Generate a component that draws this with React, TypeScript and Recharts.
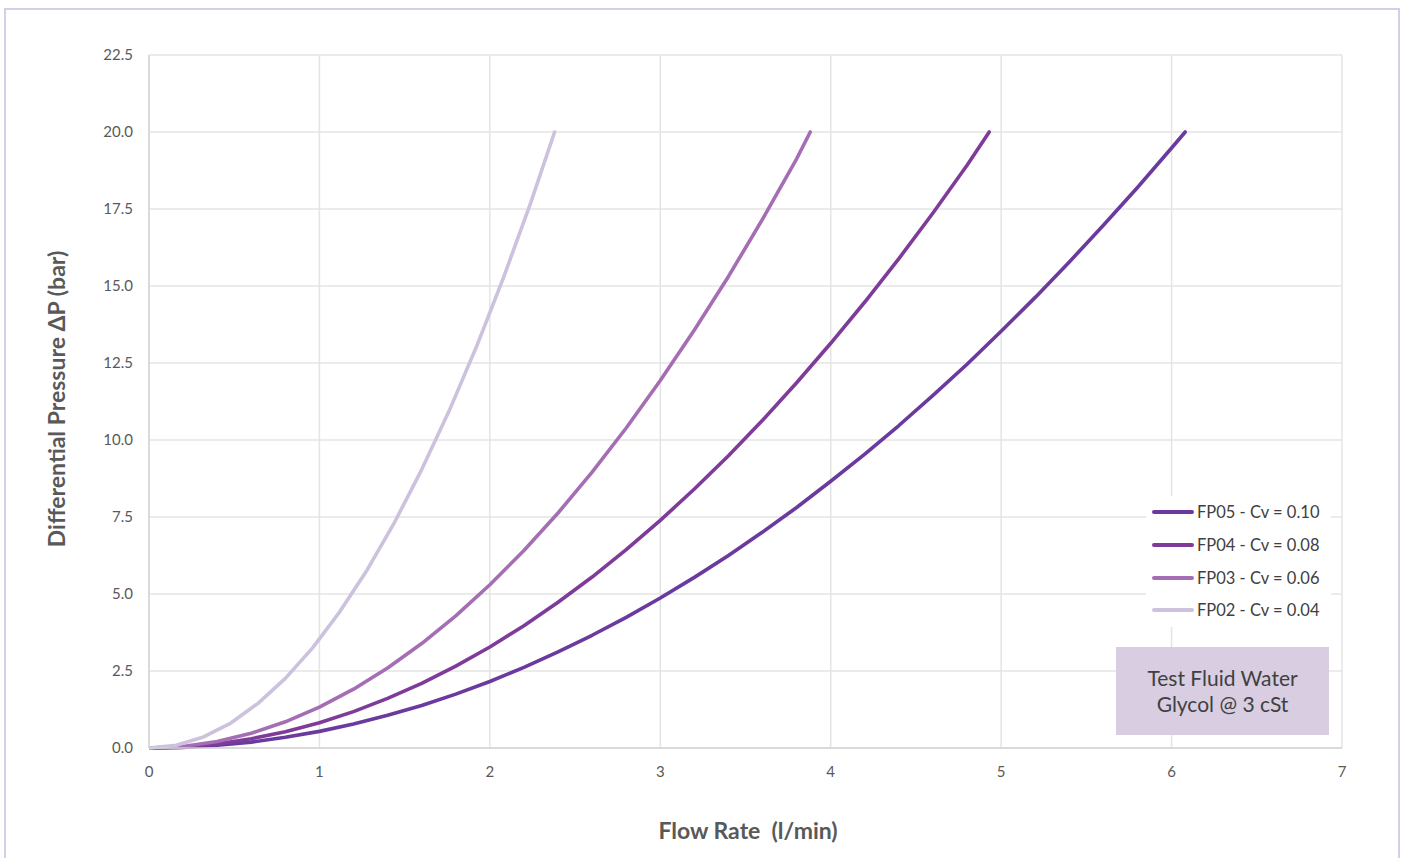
import { CartesianGrid, Line, LineChart, XAxis, YAxis } from "recharts";

// flow rate (l/min) / differential pressure (bar)
const fp05Flow = [0, 0.2, 0.4, 0.6, 0.8, 1.0, 1.2, 1.4, 1.6, 1.8, 2.0, 2.2, 2.4, 2.6, 2.8, 3.0, 3.2, 3.4, 3.6, 3.8, 4.0, 4.2, 4.4, 4.6, 4.8, 5.0, 5.2, 5.4, 5.6, 5.8, 6.0, 6.08];
const fp05Dp = [0, 0.02, 0.09, 0.19, 0.35, 0.54, 0.78, 1.06, 1.38, 1.75, 2.16, 2.62, 3.12, 3.66, 4.24, 4.87, 5.54, 6.25, 7.01, 7.81, 8.66, 9.54, 10.47, 11.45, 12.46, 13.53, 14.63, 15.78, 16.97, 18.2, 19.48, 20.0];

const fp04Flow = [0, 0.2, 0.4, 0.6, 0.8, 1.0, 1.2, 1.4, 1.6, 1.8, 2.0, 2.2, 2.4, 2.6, 2.8, 3.0, 3.2, 3.4, 3.6, 3.8, 4.0, 4.2, 4.4, 4.6, 4.8, 4.93];
const fp04Dp = [0, 0.03, 0.13, 0.3, 0.53, 0.82, 1.18, 1.61, 2.1, 2.66, 3.28, 3.97, 4.73, 5.55, 6.44, 7.39, 8.41, 9.49, 10.64, 11.86, 13.14, 14.48, 15.89, 17.37, 18.92, 20.0];

const fp03Flow = [0, 0.2, 0.4, 0.6, 0.8, 1.0, 1.2, 1.4, 1.6, 1.8, 2.0, 2.2, 2.4, 2.6, 2.8, 3.0, 3.2, 3.4, 3.6, 3.8, 3.88];
const fp03Dp = [0, 0.05, 0.21, 0.48, 0.85, 1.33, 1.91, 2.6, 3.39, 4.29, 5.3, 6.41, 7.63, 8.96, 10.39, 11.93, 13.57, 15.31, 17.17, 19.13, 20.0];

const fp02Flow = [0, 0.16, 0.32, 0.48, 0.64, 0.8, 0.96, 1.12, 1.28, 1.44, 1.6, 1.76, 1.92, 2.08, 2.24, 2.38];
const fp02Dp = [0, 0.09, 0.36, 0.81, 1.45, 2.26, 3.25, 4.43, 5.78, 7.32, 9.04, 10.93, 13.01, 15.27, 17.71, 20.0];

const xTicks = [0, 1, 2, 3, 4, 5, 6, 7];
const yTicks = [0, 2.5, 5, 7.5, 10, 12.5, 15, 17.5, 20, 22.5];

const series = [
  { name: "FP05 - Cv = 0.10", color: "#6a3a9f", flow: fp05Flow, dp: fp05Dp },
  { name: "FP04 - Cv = 0.08", color: "#7f3b99", flow: fp04Flow, dp: fp04Dp },
  { name: "FP03 - Cv = 0.06", color: "#a56db3", flow: fp03Flow, dp: fp03Dp },
  { name: "FP02 - Cv = 0.04", color: "#ccc2de", flow: fp02Flow, dp: fp02Dp },
];

const FONT = "Lato, 'Open Sans', sans-serif";
const TEXT = "#595959";

function LegendBox() {
  return (
    <div style={{ position: "absolute", left: 1146, top: 496, background: "#fff", padding: "0 12px 0 4px", fontFamily: FONT }}>
      {series.map((s) => (
        <div key={s.name} style={{ display: "flex", alignItems: "center", height: 32.7 }}>
          <svg width={44} height={8} style={{ marginRight: 3 }}>
            <line x1={4} y1={4} x2={42} y2={4} stroke={s.color} strokeWidth={4} strokeLinecap="round" />
          </svg>
          <span style={{ fontSize: 16.5, color: "#404040" }}>{s.name}</span>
        </div>
      ))}
    </div>
  );
}

export default function App() {
  return (
    <div style={{ position: "absolute", left: 0, top: 0, width: 1403, height: 858, background: "#fff", overflow: "hidden" }}>
      <div style={{ position: "absolute", left: 4, top: 8, width: 1392, height: 870, border: "2px solid #d2d0e8" }} />
      <div style={{ position: "absolute", left: 0, top: 0 }}>
        <LineChart width={1403} height={858} margin={{ top: 55, right: 61, bottom: 0, left: 0 }}>
          <CartesianGrid stroke="#e4e4e4" strokeWidth={1.5} />
          <XAxis
            type="number"
            dataKey="x"
            domain={[0, 7]}
            ticks={xTicks}
            allowDataOverflow
            height={110}
            tickLine={false}
            tickSize={6}
            tickMargin={12}
            axisLine={{ stroke: "#d4d4d4", strokeWidth: 1.5 }}
            tick={{ fontSize: 15, fill: TEXT, fontFamily: FONT }}
          />
          <YAxis
            type="number"
            dataKey="y"
            domain={[0, 22.5]}
            ticks={yTicks}
            width={149}
            tickLine={false}
            tickSize={6}
            tickMargin={10}
            axisLine={{ stroke: "#d4d4d4", strokeWidth: 1.5 }}
            tickFormatter={(v: number) => v.toFixed(1)}
            tick={{ fontSize: 15, fill: TEXT, fontFamily: FONT }}
          />
          {series.map((s) => (
            <Line
              key={s.name}
              name={s.name}
              data={s.flow.map((x, i) => ({ x, y: s.dp[i] }))}
              dataKey="y"
              type="linear"
              stroke={s.color}
              strokeWidth={3.6}
              strokeLinejoin="round"
              strokeLinecap="round"
              dot={false}
              activeDot={false}
              isAnimationActive={false}
            />
          ))}
        </LineChart>
      </div>
      <LegendBox />
      <div
        style={{
          position: "absolute",
          left: 56,
          top: 399,
          transform: "translate(-50%, -50%) rotate(-90deg)",
          whiteSpace: "pre",
          fontFamily: FONT,
          fontWeight: 700,
          fontSize: 23,
          color: TEXT,
        }}
      >
        Differential Pressure ΔP (bar)
      </div>
      <div
        style={{
          position: "absolute",
          left: 748,
          top: 830,
          transform: "translate(-50%, -50%)",
          whiteSpace: "pre",
          fontFamily: FONT,
          fontWeight: 700,
          fontSize: 23,
          color: TEXT,
        }}
      >
        {"Flow Rate  (l/min)"}
      </div>
      <div
        style={{
          position: "absolute",
          left: 1116,
          top: 647,
          width: 213,
          height: 88,
          background: "#d8cde1",
          display: "flex",
          flexDirection: "column",
          justifyContent: "center",
          alignItems: "center",
          fontFamily: FONT,
          fontSize: 21,
          lineHeight: "26px",
          color: "#404040",
        }}
      >
        <div>Test Fluid Water</div>
        <div>Glycol @ 3 cSt</div>
      </div>
    </div>
  );
}
